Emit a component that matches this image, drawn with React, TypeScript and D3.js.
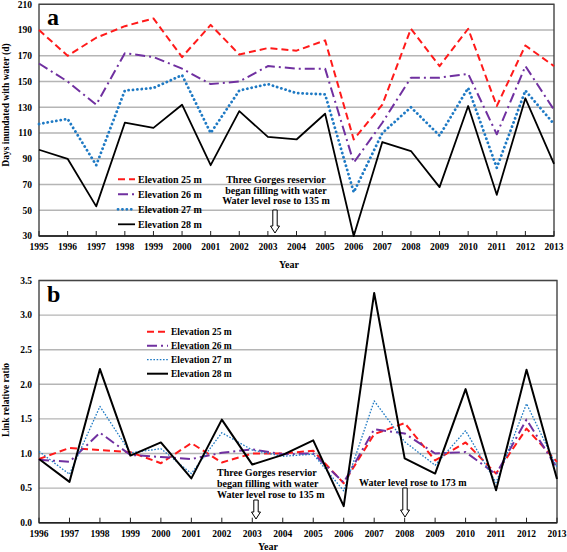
import React from "react";
import * as d3 from "d3";

const yearsA = [1995,1996,1997,1998,1999,2000,2001,2002,2003,2004,2005,2006,2007,2008,2009,2010,2011,2012,2013];
const daysE25 = [190,170,184,193,199,169,194,171,176,174,182,105,132,191,162,191,131,178,162];
const daysE26 = [164,150,132,172,169,160,148,150,162,160,160,87,118,153,153,156,109,162,128];
const daysE27 = [117,121,85,143,145,155,110,143,148,141,140,64,110,130,108,145,83,143,117];
const daysE28 = [97,90,53,118,114,132,85,127,107,105,125,30,103,96,68,131,62,137,86];

const yearsB = [1996,1997,1998,1999,2000,2001,2002,2003,2004,2005,2006,2007,2008,2009,2010,2011,2012,2013];
const ratioE25 = [0.92,1.08,1.05,1.02,0.86,1.15,0.87,1.0,1.0,1.04,0.57,1.28,1.44,0.9,1.16,0.71,1.36,0.88];
const ratioE26 = [0.91,0.88,1.3,0.98,0.95,0.92,1.01,1.06,0.99,1.0,0.58,1.35,1.29,1.0,1.02,0.7,1.49,0.79];
const ratioE27 = [1.03,0.7,1.68,1.01,1.07,0.71,1.3,1.05,0.96,0.99,0.46,1.76,1.17,0.83,1.33,0.58,1.72,0.8];
const ratioE28 = [0.92,0.59,2.22,0.97,1.16,0.64,1.49,0.84,0.98,1.19,0.24,3.32,0.93,0.71,1.93,0.47,2.21,0.63];

const seriesNames = ["Elevation 25 m", "Elevation 26 m", "Elevation 27 m", "Elevation 28 m"];
const ticksA = [30,50,70,90,110,130,150,170,190,210];
const ticksB = [0,0.5,1,1.5,2,2.5,3,3.5];

const FONT = "'Liberation Serif', 'Times New Roman', serif";

const stylesA = [
  { color: "#ff1a1a", width: 2, dash: "7,4", cap: "butt" },
  { color: "#7030a0", width: 2, dash: "10,4,2,4", cap: "butt" },
  { color: "#1f7ac4", width: 2.8, dash: "0.1,4.3", cap: "round" },
  { color: "#000000", width: 1.8, dash: "none", cap: "butt" },
];
const stylesB = [
  { color: "#ff1a1a", width: 2, dash: "7,4", cap: "butt" },
  { color: "#7030a0", width: 2, dash: "10,4,2,4", cap: "butt" },
  { color: "#1f7ac4", width: 1.3, dash: "1.6,1.6", cap: "butt" },
  { color: "#000000", width: 2, dash: "none", cap: "butt" },
];

function Arrow({ x, y1, y2 }: { x: number; y1: number; y2: number }) {
  const sw = 2.2, hw = 4.5, hl = 7;
  const d = `M${x - sw},${y1} L${x + sw},${y1} L${x + sw},${y2 - hl} L${x + hw},${y2 - hl} L${x},${y2} L${x - hw},${y2 - hl} L${x - sw},${y2 - hl} Z`;
  return <path d={d} fill="#fff" stroke="#000" strokeWidth={1} />;
}

function Panel(props: any) {
  const { years, data, styles, yDomain, ticks, fmt, left, right, top, bottom, letter, yTitle, yTitleY, yearX, yearY, legendX, legendTextX, legendY, legendStep, legendFont } = props;
  const x = d3.scalePoint<number>().domain(years).range([left, right]);
  const y = d3.scaleLinear().domain(yDomain).range([bottom, top]);
  const line = d3.line<number>().x((_, i) => x(years[i]) as number).y((v) => y(v));
  return (
    <g>
      <rect x={left} y={top} width={right - left} height={bottom - top} fill="#fff" />
      {ticks.map((t: number) => (
        <line key={"g" + t} x1={left} x2={right} y1={y(t)} y2={y(t)} stroke="#b5b5b5" strokeWidth={1.4} />
      ))}
      <rect x={left} y={top} width={right - left} height={bottom - top} fill="none" stroke="#444" strokeWidth={1.4} />
      <line x1={left} x2={right} y1={bottom} y2={bottom} stroke="#222" strokeWidth={1.4} />
      {years.map((yr: number) => (
        <line key={"t" + yr} x1={x(yr)} x2={x(yr)} y1={bottom} y2={bottom - 5} stroke="#222" strokeWidth={1} />
      ))}
      {ticks.map((t: number) => (
        <text key={"yl" + t} x={left - 7} y={y(t)} dy="0.35em" textAnchor="end" fontSize={9.5} fontWeight="bold" fontFamily={FONT}>{fmt(t)}</text>
      ))}
      {years.map((yr: number) => (
        <text key={"xl" + yr} x={x(yr)} y={bottom + 14} textAnchor="middle" fontSize={9.5} fontWeight="bold" fontFamily={FONT}>{yr}</text>
      ))}
      <text x={yearX} y={yearY} textAnchor="middle" fontSize={10} fontWeight="bold" fontFamily={FONT}>Year</text>
      <text transform={`translate(9,${yTitleY}) rotate(-90)`} textAnchor="middle" fontSize={9.5} fontWeight="bold" fontFamily={FONT}>{yTitle}</text>
      <text x={left + 8} y={top + 21} fontSize={24} fontWeight="bold" fontFamily={FONT}>{letter}</text>
      {data.map((s: number[], i: number) => (
        <path key={"s" + i} d={line(s) as string} fill="none" stroke={styles[i].color} strokeWidth={styles[i].width} strokeDasharray={styles[i].dash} strokeLinecap={styles[i].cap} strokeLinejoin="round" />
      ))}
      {seriesNames.map((n, i) => (
        <g key={"lg" + i}>
          <line x1={legendX[0]} x2={legendX[1]} y1={legendY + i * legendStep} y2={legendY + i * legendStep} stroke={styles[i].color} strokeWidth={styles[i].width} strokeDasharray={styles[i].dash} strokeLinecap={styles[i].cap} />
          <text x={legendTextX} y={legendY + i * legendStep} dy="0.35em" fontSize={legendFont} fontWeight="bold" fontFamily={FONT}>{n}</text>
        </g>
      ))}
    </g>
  );
}

export default function App() {
  return (
    <svg width={567} height={552} style={{ position: "absolute", left: 0, top: 0, background: "#fff" }}>
      <Panel years={yearsA} data={[daysE25, daysE26, daysE27, daysE28]} styles={stylesA} yDomain={[30, 210]} ticks={ticksA} fmt={(t: number) => String(t)}
        left={39} right={554} top={4.3} bottom={236} letter="a" yTitle="Days inundated with water (d)" yTitleY={105}
        yearX={289} yearY={268} legendX={[118, 135]} legendTextX={138} legendY={179.3} legendStep={15} legendFont={10} />
      <Panel years={yearsB} data={[ratioE25, ratioE26, ratioE27, ratioE28]} styles={stylesB} yDomain={[0, 3.5]} ticks={ticksB} fmt={(t: number) => t.toFixed(1)}
        left={39} right={557} top={280.5} bottom={522.7} letter="b" yTitle="Link relative ratio" yTitleY={400}
        yearX={268} yearY={550} legendX={[147, 168]} legendTextX={171} legendY={331.7} legendStep={14} legendFont={9.5} />
      <g fontSize={10} fontWeight="bold" fontFamily={FONT}>
        <text x={276} y={179.3} dy="0.35em" textAnchor="middle">Three Gorges reservior</text>
        <text x={276} y={190} dy="0.35em" textAnchor="middle">began filling with water</text>
        <text x={276} y={200.7} dy="0.35em" textAnchor="middle">Water level rose to 135 m</text>
        <text x={217} y={472.7} dy="0.35em">Three Gorges reservior</text>
        <text x={217} y={483.3} dy="0.35em">began filling with water</text>
        <text x={217} y={494} dy="0.35em">Water level rose to 135 m</text>
        <text x={359} y={482} dy="0.35em">Water level rose to 173 m</text>
      </g>
      <Arrow x={275} y1={210} y2={233} />
      <Arrow x={256} y1={500} y2={519} />
      <Arrow x={405} y1={488} y2={517} />
    </svg>
  );
}
